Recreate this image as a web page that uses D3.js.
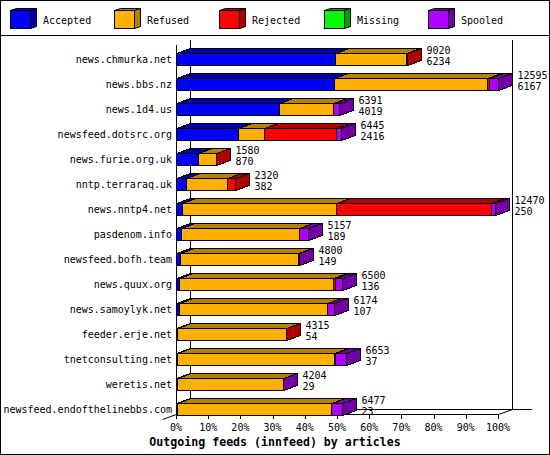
<!DOCTYPE html>
<html><head><meta charset="utf-8">
<script src="https://cdn.jsdelivr.net/npm/d3@7"></script>
<style>
html,body{margin:0;padding:0;background:#fff;}
svg{display:block;}
text{font-family:"DejaVu Sans Mono",monospace;font-size:10px;fill:#000;}
</style></head>
<body>
<script>
const categories = ["news.chmurka.net","news.bbs.nz","news.1d4.us","newsfeed.dotsrc.org","news.furie.org.uk","nntp.terraraq.uk","news.nntp4.net","pasdenom.info","newsfeed.bofh.team","news.quux.org","news.samoylyk.net","feeder.erje.net","tnetconsulting.net","weretis.net","newsfeed.endofthelinebbs.com"];
const totals   = [9020,12595,6391,6445,1580,2320,12470,5157,4800,6500,6174,4315,6653,4204,6477];
const accepted = [6234,6167,4019,2416,870,382,250,189,149,136,107,54,37,29,23];
const refused  = [2770,6000,2140,1040,680,1627,6000,4636,4640,5993,5813,4240,6126,4165,6024];
const rejected = [16,60,0,2790,30,311,6064,0,0,78,0,21,60,0,0];
const missing  = [0,0,0,0,0,0,0,0,0,0,0,0,0,0,0];
const spooled  = [0,368,232,199,0,0,156,332,11,293,254,0,430,10,430];
const seriesNames = ["Accepted","Refused","Rejected","Missing","Spooled"];
const seriesValues = [accepted, refused, rejected, missing, spooled];
const tickValues = [0,10,20,30,40,50,60,70,80,90,100];
const xTitle = "Outgoing feeds (innfeed) by articles";

const colors = ["#0000ff","#ffb000","#ff0000","#00ff00","#b000ff"];
const darks  = ["#0000a8","#b88000","#b00000","#00a000","#7400a8"];

const W = 550, H = 455;
const DX = 14, DY = -5;
const svg = d3.select("body").append("svg").attr("width", W).attr("height", H);
svg.append("rect").attr("x",0.5).attr("y",0.5).attr("width",W-1).attr("height",H-1)
  .attr("fill","#fff").attr("stroke","#000");
svg.append("line").attr("x1",0).attr("x2",W).attr("y1",35.5).attr("y2",35.5).attr("stroke","#000").attr("shape-rendering","crispEdges");

// legend
const leg = svg.append("g");
seriesNames.forEach((n,i)=>{
  const lx = 9.5 + i*104.7, ly = 10.5;
  const g = leg.append("g").attr("transform",`translate(${Math.round(lx)+0.5},${ly})`);
  const w=20,h=18,dx=6,dy=-2;
  g.append("path").attr("d",`M0,0 L${dx},${dy} L${w+dx},${dy} L${w},0 Z`).attr("fill",darks[i]).attr("stroke","#000");
  g.append("path").attr("d",`M${w},0 L${w+dx},${dy} L${w+dx},${h+dy} L${w},${h} Z`).attr("fill",darks[i]).attr("stroke","#000");
  g.append("rect").attr("width",w).attr("height",h).attr("fill",colors[i]).attr("stroke","#000");
  leg.append("text").attr("x",Math.round(lx)+33).attr("y",23.5).text(n);
});

const maxTotal = d3.max(totals);
const x = d3.scaleLinear().domain([0,100]).range([176,498]);
const y = d3.scaleBand().domain(categories).range([47,422]);

const L = (x1,y1,x2,y2)=>svg.append("line").attr("x1",x1).attr("y1",y1).attr("x2",x2).attr("y2",y2)
   .attr("stroke","#000").attr("shape-rendering","crispEdges");
// back wall
L(x(0)+DX+0.5, 40, x(0)+DX+0.5, 414+DY);
L(x(100)+DX+0.5, 40, x(100)+DX+0.5, 414+DY);
L(x(0)+DX, 409.5, 532, 409.5);
// front axes
L(x(0)+0.5, 45, x(0)+0.5, 414.5);
L(x(0), 414.5, x(100)+1, 414.5);
svg.append("line").attr("x1",x(100)+0.5).attr("y1",414.5).attr("x2",x(100)+DX+0.5).attr("y2",409.5).attr("stroke","#000");
svg.append("line").attr("x1",x(0)-DX+0.5).attr("y1",419.5).attr("x2",x(0)+0.5).attr("y2",414.5).attr("stroke","#000");
tickValues.forEach(t=>{
  L(Math.round(x(t))+0.5,414.5,Math.round(x(t))+0.5,418.5);
  svg.append("text").attr("x",x(t)).attr("y",431).attr("text-anchor","middle").text(t+"%");
});
svg.append("text").attr("x",275).attr("y",445.5).attr("text-anchor","middle")
  .style("font-weight","bold").style("font-size","11.6px").text(xTitle);

// bars
categories.forEach((c,ri)=>{
  const top = Math.round(y(c))+6.5, h = 12;
  const g = svg.append("g");
  let cum = 0, last = -1;
  const segs = [];
  seriesValues.forEach((arr,si)=>{
    const v = arr[ri];
    if (v<=0) return;
    const p0 = cum/maxTotal*100, p1 = (cum+v)/maxTotal*100;
    cum += v; last = si;
    segs.push({si, x0: Math.round(x(p0))+0.5, x1: Math.round(x(p1))+0.5});
  });
  segs.forEach(s=>{
    g.append("path").attr("d",`M${s.x0},${top} L${s.x0+DX},${top+DY} L${s.x1+DX},${top+DY} L${s.x1},${top} Z`)
      .attr("fill",darks[s.si]).attr("stroke","#000").attr("shape-rendering","crispEdges");
  });
  const end = segs[segs.length-1].x1;
  g.append("path").attr("d",`M${end},${top} L${end+DX},${top+DY} L${end+DX},${top+h+DY} L${end},${top+h} Z`)
    .attr("fill",darks[last]).attr("stroke","#000").attr("shape-rendering","crispEdges");
  segs.forEach(s=>{
    g.append("rect").attr("x",s.x0).attr("y",top).attr("width",s.x1-s.x0).attr("height",h)
      .attr("fill",colors[s.si]).attr("stroke","#000").attr("shape-rendering","crispEdges");
  });
  svg.append("text").attr("x",172).attr("y",top+9.5).attr("text-anchor","end").text(c);
  svg.append("text").attr("x",end+DX+5).attr("y",top+0.5).text(totals[ri]);
  svg.append("text").attr("x",end+DX+5).attr("y",top+11.5).text(accepted[ri]);
});
</script>
</body></html>
